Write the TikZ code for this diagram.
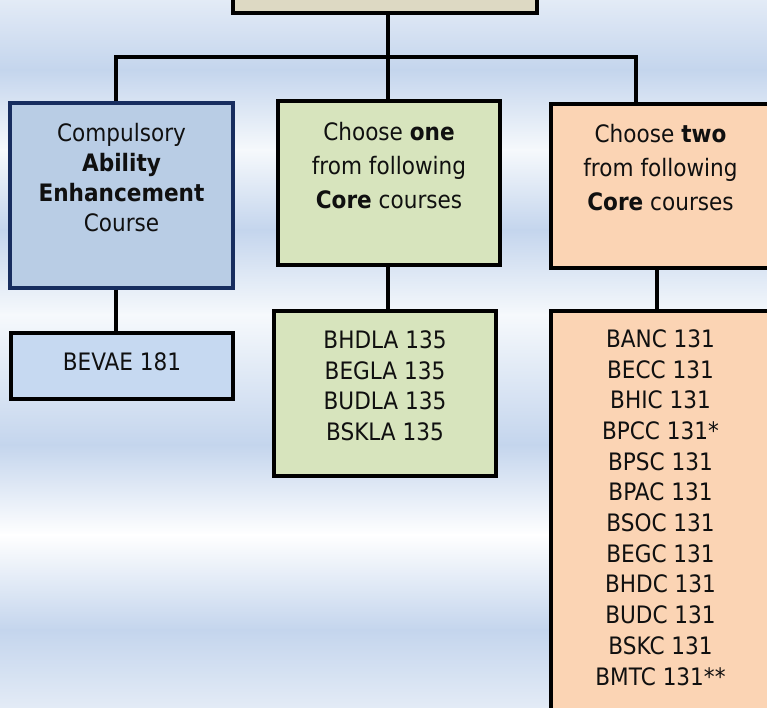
\documentclass[tikz,border=0pt]{standalone}
\usepackage{fontspec}
\setmainfont{DejaVu Sans}[FakeStretch=0.9]
\usetikzlibrary{positioning}
\definecolor{bglight}{HTML}{E3EBF6}
\definecolor{bgblue}{HTML}{C4D5ED}
\definecolor{bgwhite}{HTML}{F6F9FC}
\definecolor{topfill}{HTML}{DDD9C3}
\definecolor{aefill}{HTML}{B9CDE5}
\definecolor{aeborder}{HTML}{172D5F}
\definecolor{bevaefill}{HTML}{C6D9F1}
\definecolor{onefill}{HTML}{D7E4BD}
\definecolor{twofill}{HTML}{FBD4B4}
\definecolor{txtcol}{HTML}{101010}
\begin{document}
\begin{tikzpicture}[x=1pt, y=-1pt, line width=3.2pt,
		box/.style={draw=black, rectangle, inner sep=0pt},
		txt/.style={inner sep=0pt, align=center, text=txtcol, font=\fontsize{24}{30.7}\selectfont}]
		\useasboundingbox (0,0) rectangle (767,707);
		\clip (0,0) rectangle (767,707);

		% background bands
		\foreach \ya/\yb/\ca/\cb in {0/70/bglight/bgblue, 70/150/bgblue/bgwhite, 150/230/bgwhite/bgblue, 230/315/bgblue/bgwhite, 315/445/bgwhite/bgblue, 445/535/bgblue/white, 535/630/white/bgblue, 630/707/bgblue/bglight}
			\shade[top color=\ca, bottom color=\cb] (0,\ya-0.5) rectangle (767,\yb+0.5);

		\node[box, fill=topfill, minimum width=304pt, minimum height=70pt] (top) at (385,-22) {};
		\node[box, draw=aeborder, fill=aefill, minimum width=223pt, minimum height=185pt] (ae) at (121.5,195.5) {};
		\node[box, fill=onefill, minimum width=222pt, minimum height=164pt] (one) at (389,183) {};
		\node[box, fill=twofill, minimum width=219pt, minimum height=164pt] (two) at (660.5,186) {};
		\node[box, fill=bevaefill, minimum width=222pt, minimum height=66pt] (bevae) at (122,366) {};
		\node[box, fill=onefill, minimum width=222pt, minimum height=165pt] (onelist) at (385,393.5) {};
		\node[box, fill=twofill, minimum width=219pt, minimum height=419pt] (twolist) at (660.5,520.5) {};

		% texts
		\node[txt, font=\fontsize{24}{30}\selectfont, below=20pt of ae.north] {Compulsory\\\textbf{Ability}\\\textbf{Enhancement}\\Course};
		\node[txt, font=\fontsize{24}{34}\selectfont, below=21pt of one.north] {Choose \textbf{one}\\from following\\\textbf{Core} courses};
		\node[txt, font=\fontsize{24}{34}\selectfont, below=20pt of two.north] {Choose \textbf{two}\\from following\\\textbf{Core} courses};
		\node[txt, below=19.5pt of bevae.north] {BEVAE 181};
		\node[txt, below=19.5pt of onelist.north] {BHDLA 135\\BEGLA 135\\BUDLA 135\\BSKLA 135};
		\node[txt, below=18.5pt of twolist.north] {BANC 131\\BECC 131\\BHIC 131\\BPCC 131*\\BPSC 131\\BPAC 131\\BSOC 131\\BEGC 131\\BHDC 131\\BUDC 131\\BSKC 131\\BMTC 131**};

		% connectors
		\coordinate (bus) at (388,57);
		\draw (top.south -| bus) -- (bus);
		\draw ([xshift=-5.5pt]ae.north) |- (bus);
		\draw (one.north -| bus) -- (bus);
		\draw ([xshift=-24.5pt]two.north) |- (bus);
		\draw ([xshift=-5.5pt]ae.south) -- ([xshift=-5.5pt]ae.south |- bevae.north);
		\draw (one.south -| bus) -- (onelist.north -| bus);
		\draw ([xshift=-3.5pt]two.south) -- ([xshift=-3.5pt]two.south |- twolist.north);
	\end{tikzpicture}
\end{document}
